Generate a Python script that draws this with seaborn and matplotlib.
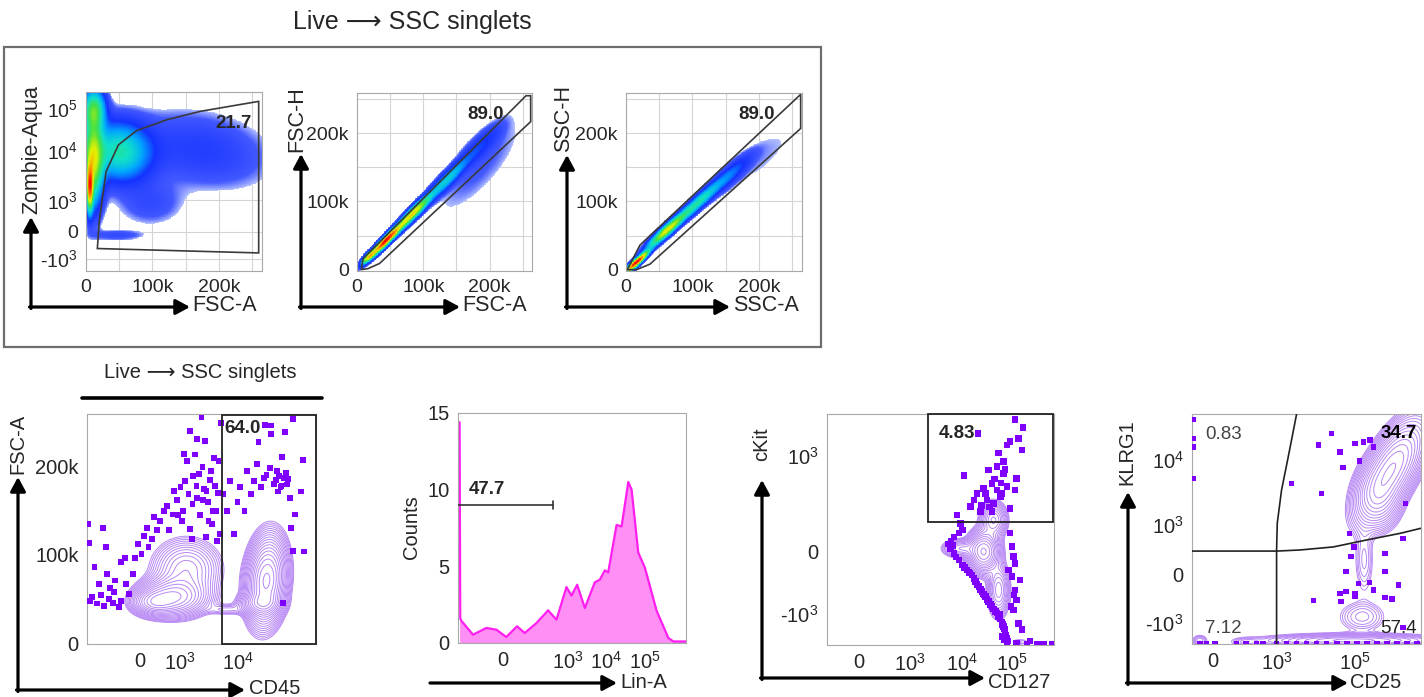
import numpy as np
import matplotlib
matplotlib.use("Agg")
import matplotlib.pyplot as plt
import seaborn as sns
from matplotlib.colors import LinearSegmentedColormap, LogNorm
from matplotlib.patches import FancyArrowPatch, Rectangle, Polygon
from matplotlib.lines import Line2D
from matplotlib.ticker import FixedLocator, FixedFormatter

sns.set_style("white")
plt.rcParams["font.family"] = ["Liberation Sans", "DejaVu Sans"]
plt.rcParams["mathtext.default"] = "regular"

W, H = 1424, 697

# ---------------- data ----------------
# populations: (x, y, spread x, spread y, angle, weight)
live_clusters = [
    (6000, 1800, 0.012, 0.08, 0, 1.0),
    (11000, 6470, 0.035, 0.15, 0, 0.7),
    (12000, 91000, 0.04, 0.07, 0, 0.5),
    (50000, 9500, 0.11, 0.10, -15, 0.4),
    (172000, 10400, 0.25, 0.13, -10, 0.07),
    (96500, 730, 0.12, 0.08, 0, 0.045),
    (46000, -38, 0.10, 0.02, 0, 0.045),
]
live_gate_x = [17100, 20100, 30200, 48800, 76500, 121700, 172000, 260000, 260000]
live_gate_y = [-316, 134, 3750, 13600, 29700, 53000, 83600, 144000, -525]
live_pct = ("21.7", 222000, 44000)

fsc_clusters = [
    (18000, 19000, 0.03, 0.010, 45, 0.5),
    (44000, 43000, 0.07, 0.012, 45, 1.0),
    (84000, 82000, 0.08, 0.015, 45, 0.55),
    (135000, 131000, 0.10, 0.020, 45, 0.14),
    (185000, 180000, 0.10, 0.030, 45, 0.035),
    (185000, 150000, 0.22, 0.07, 48, 0.007),
]
fsc_gate_x = [6500, 9000, 255000, 262000, 262000, 34000, 16600]
fsc_gate_y = [0, 16000, 255000, 255000, 217000, 9000, 1500]
fsc_pct = ("89.0", 194000, 227000)

ssc_clusters = [
    (16000, 11000, 0.05, 0.010, 42, 1.0),
    (62000, 58000, 0.08, 0.015, 42, 0.5),
    (107000, 97000, 0.10, 0.018, 42, 0.2),
    (153000, 136000, 0.10, 0.025, 42, 0.06),
    (205000, 165000, 0.18, 0.06, 42, 0.004),
]
ssc_gate_x = [2000, 21000, 263000, 263000, 36000, 16000]
ssc_gate_y = [0, 36000, 257000, 207000, 8000, 0]
ssc_pct = ("89.0", 196000, 227000)

# CD45 vs FSC-A
cd45_clusters = [
    (604, 52000, 0.08, 0.045, 0, 1.0),
    (117, 46000, 0.05, 0.03, 0, 0.6),
    (1300, 84000, 0.08, 0.07, 0, 0.45),
    (30500, 71000, 0.10, 0.045, 85, 1.6),
    (23500, 45000, 0.05, 0.025, 0, 0.5),
    (6300, 38000, 0.05, 0.015, 0, 0.12),
]
cd45_dots = [
    (-1400, 135), (-1350, 114), (-1250, 48), (-920, 86), (-680, 67), (-530, 131), (-425, 109),
    (-405, 78), (-330, 63), (-271, 46), (-230, 71), (-175, 41), (-155, 92), (-110, 97), (-97, 67),
    (-75, 56), (-48, 78), (-33, 97), (-10, 112), (13, 101), (30, 122), (55, 131), (70, 109),
    (110, 118), (125, 143), (170, 128), (220, 139), (290, 150), (380, 156), (440, 128), (580, 146),
    (640, 173), (830, 162), (1030, 177), (1100, 139), (1240, 184), (1340, 207), (1410, 169),
    (1480, 241), (1650, 158), (1810, 214), (1930, 178), (2150, 192), (2350, 256), (2520, 162),
    (2700, 229), (2870, 173), (3100, 139), (3370, 195), (3730, 150), (4050, 178), (4400, 116),
    (4600, 207), (4850, 124), (5100, 250), (1150, 150), (1500, 130), (1700, 190), (2000, 165),
    (2200, 145), (2450, 200), (2600, 175), (3000, 160), (3300, 185), (3500, 135), (4200, 150),
    (4500, 170), (1600, 118), (900, 145), (2800, 120), (3900, 210), (2000, 232), (1200, 215),
    (-1100, 52), (-800, 45), (-600, 55), (-500, 42), (-350, 50), (-250, 58), (-150, 48),
    (5600, 169), (6500, 150), (7300, 184), (8400, 124), (9700, 160), (10800, 177), (12800, 150),
    (14200, 195), (16300, 169), (18600, 184), (21000, 203), (22200, 228), (24200, 177),
    (27300, 187), (30500, 191), (35000, 199), (37000, 237), (41000, 181), (46000, 195),
    (53000, 177), (56000, 211), (60000, 187), (63000, 240), (69000, 180), (76000, 165),
    (81000, 131), (86000, 254), (87600, 105), (95000, 146), (117000, 172), (128000, 208),
    (134000, 104), (28700, 248), (37000, 247), (58000, 46), (45000, 185), (50000, 190),
    (65000, 193), (72000, 186), (55000, 178), (48000, 172),
]
cd45_gate_low = 5200
cd45_pct = ("64.0", 11900, 243000)

# Lin-A histogram
lin_x = [-900, -860, -800, -363, -136, -46, 15, 69, 117, 222, 392, 581, 925, 1225, 1735, 2770,
         5100, 6920, 9400, 11470, 18770, 25250, 37450, 45600, 67400, 100000, 198000, 392000,
         526000, 1090000]
lin_counts = [14.4, 1.6, 1.45, 0.54, 0.98, 0.87, 0.39, 1.09, 0.65, 1.3, 2.13, 1.52, 3.65, 3.09,
              3.8, 2.28, 3.96, 4.13, 4.74, 4.6, 7.7, 7.6, 10.5, 10.0, 5.9, 4.9, 2.1, 0.33, 0.1,
              0.1]
lin_gate = (-1000, 500)
lin_gate_level = 9.0
lin_pct = ("47.7", -131, 10.0)

# CD127 vs cKit
ckit_clusters = [
    (27400, 0, 0.035, 0.045, 0, 1.0),
    (43000, 116, 0.03, 0.04, 0, 0.4),
    (54000, -308, 0.025, 0.06, 0, 0.35),
    (9550, 10, 0.04, 0.02, 0, 0.3),
    (141800, -1440, 0.03, 0.01, 0, 0.05),
]
ckit_dots = [
    (114600, 2380), (162000, 1960), (20900, 1700), (133000, 1510), (91000, 1400), (155000, 1145),
    (78500, 1290), (54000, 1060), (67600, 828), (50000, 708), (34400, 637), (67600, 573),
    (123000, 488), (11100, 532), (39800, 417), (27400, 354), (78500, 374), (20300, 301),
    (58200, 269), (114600, 336), (17500, 240), (43000, 215), (15000, 191), (91000, 180),
    (8220, 141), (23600, 160), (31800, 240), (50000, 336), (36000, 190), (62000, 300),
    (45000, 480), (60000, 420), (72000, 650), (30000, 300), (25000, 200), (40000, 160),
    (7080, 48), (6270, 32), (5630, 24), (6080, 10), (7080, -8), (8870, -41), (10300, -69),
    (12900, -100), (16200, -137), (18800, -198), (21900, -260), (25400, -334), (29500, -430),
    (34400, -547), (39800, -700), (46400, -887), (54000, -1036), (62700, -1107), (67600, -1180),
    (73000, -1260), (62700, -1345), (78500, -1375), (14500, -120), (20000, -230), (27000, -380),
    (37000, -620), (50000, -950), (58000, -1000), (70000, -1220),
    (11500, -85), (14000, -118), (17500, -168), (20300, -228), (23500, -297), (27500, -382),
    (32000, -488), (37000, -623), (43000, -793), (50000, -960), (58000, -1070), (65000, -1150),
    (76000, -1320), (82000, -1420), (71000, -1400), (6600, 20), (7800, -25),
    (91000, 61), (98400, 16), (106000, -24), (114600, -59), (84700, -100), (98400, -151),
    (143500, -182), (114600, -308), (123000, -505), (106000, -819), (133000, -1130),
    (155000, -1225), (95000, -700), (110000, -400),
    (78500, -1470), (123000, -1470), (194000, -1480), (305000, -1480), (411000, -1480),
    (600000, -1480), (225000, -1420), (9550, 100), (10300, 73), (8870, 61),
]
ckit_gate = (2265, 108)
ckit_pct = ("4.83", 8220, 1700)

# CD25 vs KLRG1
klrg_clusters = [
    (863000, 7440, 0.12, 0.05, 60, 1.0),
    (400000, 2600, 0.05, 0.07, 0, 0.3),
    (170000, 100, 0.025, 0.09, 0, 0.07),
    (150000, -665, 0.06, 0.04, 0, 0.09),
    (90600, -1400, 0.20, 0.015, 0, 0.35),
    (-204, -1400, 0.02, 0.015, 0, 0.08),
    (229, -1440, 0.04, 0.012, 0, 0.06),
]
klrg_dots = [
    (25300, 25700), (11600, 17000), (41400, 13400), (100000, 18000), (163000, 19100),
    (241000, 20300), (294000, 16000), (129000, 9660), (48400, 7700), (2420, 4370),
    (14100, 3070), (1890000, 2150), (71600, 605), (1650000, 446), (94200, 260), (77400, 134),
    (58900, 20), (583000, 170), (583000, 20), (122000, -54), (232000, -49), (1280000, -66),
    (41400, -140), (58900, -122), (100000, -148), (100000, -179), (294000, -107),
    (583000, -188), (863000, -214), (8630, -236), (43000, -247), (1650000, -1085),
    (-446, 42300), (-446, 21400), (-446, 15700), (-446, 5220),
    (-204, -1480), (-80, -1480), (8, -1480), (134, -1480), (229, -1480), (380, -1480),
    (528, -1480), (1000, -1480), (1800, -1480), (3240, -1480), (5830, -1480), (10500, -1480),
    (18900, -1480), (34000, -1480), (61100, -1480), (110000, -1480), (198000, -1480),
    (357000, -1480), (643000, -1480), (1160000, -1480), (2080000, -1480), (3750000, -1480),
]
klrg_vline_x = [1000, 1000, 1040, 1340, 1985, 3240]
klrg_vline_y = [-1500, 198, 1060, 3450, 11200, 51000]
klrg_hline_x = [-500, 1000, 3940, 28000, 198000, 1410000, 4750000]
klrg_hline_y = [198, 198, 213, 260, 403, 605, 821]
klrg_quadrants = [("0.83", 49, 24300, "normal", "#444444"),
                  ("34.7", 1280000, 25700, "bold", "black"),
                  ("7.12", 49, -1105, "normal", "#444444"),
                  ("57.4", 1280000, -1105, "normal", "#222222")]

# ---------------- helpers ----------------
fig = plt.figure(figsize=(W / 100, H / 100), dpi=100)

flow_cmap = LinearSegmentedColormap.from_list(
    "flowjo", [(0.0, "#b4c0ff"), (0.12, "#4258ff"), (0.42, "#1432ff"), (0.58, "#00a4ff"),
               (0.70, "#10e0c8"), (0.80, "#44e044"), (0.88, "#e4f000"), (0.95, "#ff8000"),
               (1.0, "#ff0000")])
contour_color = "#b889f4"
dot_color = "#7f00ff"
gate_font = dict(family=["Liberation Sans Narrow", "Liberation Sans", "DejaVu Sans"],
                 fontsize=13.5, fontweight="bold")
title_text = "Live \u27f6 SSC singlets"


def fig_xy(x, y):
    return (x / W, 1 - y / H)


def add_ax(x0, y0, x1, y1):
    return fig.add_axes([x0 / W, 1 - y1 / H, (x1 - x0) / W, (y1 - y0) / H])


def flow_axis(ax, which, vals, pos, c=100.0):
    # biexponential-like display: anchors taken from the reference tick positions
    t = np.arcsinh(np.asarray(vals, float) / c)
    p = np.asarray(pos, float)
    if which == "y":
        p = -p

    def fwd(v):
        return np.interp(np.arcsinh(np.asarray(v, float) / c), t, p)

    def inv(q):
        return c * np.sinh(np.interp(q, p, t))

    if which == "x":
        ax.set_xscale("function", functions=(fwd, inv))
        ax.set_xlim(vals[0], vals[-1])
    else:
        ax.set_yscale("function", functions=(fwd, inv))
        ax.set_ylim(vals[0], vals[-1])


def log_minors(lo, hi):
    out = []
    for k in range(1, 7):
        for m in range(2, 10):
            for s in (1, -1):
                v = s * m * 10 ** k
                if lo < v < hi:
                    out.append(v)
    return out


def set_ticks(ax, which, major, labels, minor):
    axis = getattr(ax, which + "axis")
    axis.set_major_locator(FixedLocator(major))
    axis.set_major_formatter(FixedFormatter(labels))
    axis.set_minor_locator(FixedLocator(list(minor)))


def style(ax, labelsize=14):
    for s in ax.spines.values():
        s.set_color("#a8a8a8")
        s.set_linewidth(0.8)
    ax.tick_params(which="both", direction="out", color="#444444", width=0.8,
                   labelsize=labelsize, pad=1.5, top=False, right=False)
    ax.tick_params(which="major", length=4.5)
    ax.tick_params(which="minor", length=2.2)


def density(ax, clusters, n=260):
    to_unit = ax.transScale + ax.transLimits
    u = np.linspace(0.0, 1.0, n)
    uu, vv = np.meshgrid(u, u)
    xy = to_unit.inverted().transform(np.column_stack([uu.ravel(), vv.ravel()]))
    gx = xy[:, 0].reshape(uu.shape)
    gy = xy[:, 1].reshape(uu.shape)
    dens = np.zeros_like(uu)
    for cx, cy, sx, sy, ang, w in clusters:
        fx, fy = to_unit.transform([[cx, cy]])[0]
        a = np.deg2rad(ang)
        dx, dy = uu - fx, vv - fy
        r1 = dx * np.cos(a) + dy * np.sin(a)
        r2 = -dx * np.sin(a) + dy * np.cos(a)
        dens += w * np.exp(-0.5 * ((r1 / sx) ** 2 + (r2 / sy) ** 2))
    return gx, gy, dens / dens.max()


def pseudocolor(ax, clusters, floor):
    gx, gy, d = density(ax, clusters)
    ax.pcolormesh(gx, gy, np.ma.masked_less(d, floor), cmap=flow_cmap,
                  norm=LogNorm(floor, 1.0), shading="nearest", zorder=1, rasterized=True)


def contours(ax, clusters, lo, n_levels):
    gx, gy, d = density(ax, clusters)
    ax.contour(gx, gy, d, levels=np.geomspace(lo, 0.95, n_levels), colors=contour_color,
               linewidths=0.7, zorder=2)


def dots(ax, pts, scale, size=16):
    pts = np.asarray(pts, float)
    sns.scatterplot(x=pts[:, 0], y=pts[:, 1] * scale, ax=ax, marker="s", s=size,
                    color=dot_color, edgecolor="none", linewidth=0, zorder=3)


def arrow(x0, y0, x1, y1):
    fig.add_artist(FancyArrowPatch(fig_xy(x0, y0), fig_xy(x1, y1), transform=fig.transFigure,
                                   arrowstyle="-|>,head_length=8.5,head_width=4.6",
                                   mutation_scale=1, lw=2.3, color="black",
                                   shrinkA=0, shrinkB=0))


def corner_arrows(cx, cy, top, right):
    arrow(cx, cy + 1.5, cx, top)
    arrow(cx - 1.5, cy, right, cy)


def gridlines(ax, xs, ys):
    for v in xs:
        ax.axvline(v, color="#d4d4d4", lw=0.8, zorder=0.5)
    for v in ys:
        ax.axhline(v, color="#d4d4d4", lw=0.8, zorder=0.5)


def gate_polygon(ax, gx, gy):
    ax.add_patch(Polygon(np.column_stack([gx, gy]), closed=True, fill=False,
                         ec="#3a3a3a", lw=1.2, zorder=4))


def gate_text(ax, spec, ha="center"):
    txt, x, y = spec
    ax.text(x, y, txt, ha=ha, va="center", zorder=5, **gate_font)


lin_ticks = [0, 100000, 200000]
lin_labels = ["0", "100k", "200k"]
grid50 = [50000, 100000, 150000, 200000, 250000]

# ---------------- top box ----------------
fig.add_artist(Rectangle(fig_xy(4, 347), 817 / W, 300 / H, transform=fig.transFigure,
                         fill=False, ec="#6e6e6e", lw=1.6))
fig.text(*fig_xy(412, 22), title_text, ha="center", va="center", fontsize=18)

# panel 1: FSC-A vs Zombie-Aqua
ax1 = add_ax(86, 92, 262, 271)
ax1.set_xlim(0, 265000)
flow_axis(ax1, "y", [-2000, -1000, 0, 1000, 1e4, 1e5, 2.4e5], [632, 595, 515, 420, 272, 145, 97])
set_ticks(ax1, "x", lin_ticks, lin_labels, np.arange(10000, 265000, 10000))
set_ticks(ax1, "y", [-1000, 0, 1000, 1e4, 1e5], ["-$10^3$", "0", "$10^3$", "$10^4$", "$10^5$"],
          log_minors(-2000, 2.4e5))
style(ax1)
gridlines(ax1, grid50, [-1000, 0, 1000])
pseudocolor(ax1, live_clusters, 0.012)
gate_polygon(ax1, live_gate_x, live_gate_y)
gate_text(ax1, live_pct)

# panel 2: FSC-A vs FSC-H
ax2 = add_ax(357, 93, 532, 271)
ax2.set_xlim(0, 264000)
ax2.set_ylim(-2000, 259000)
set_ticks(ax2, "x", lin_ticks, lin_labels, np.arange(10000, 264000, 10000))
set_ticks(ax2, "y", lin_ticks, lin_labels, np.arange(10000, 259000, 10000))
style(ax2)
gridlines(ax2, grid50, grid50)
pseudocolor(ax2, fsc_clusters, 0.003)
gate_polygon(ax2, fsc_gate_x, fsc_gate_y)
gate_text(ax2, fsc_pct)

# panel 3: SSC-A vs SSC-H
ax3 = add_ax(626, 93, 802, 271)
ax3.set_xlim(0, 265000)
ax3.set_ylim(-2000, 259000)
set_ticks(ax3, "x", lin_ticks, lin_labels, np.arange(10000, 265000, 10000))
set_ticks(ax3, "y", lin_ticks, lin_labels, np.arange(10000, 259000, 10000))
style(ax3)
gridlines(ax3, grid50, grid50)
pseudocolor(ax3, ssc_clusters, 0.003)
gate_polygon(ax3, ssc_gate_x, ssc_gate_y)
gate_text(ax3, ssc_pct)

corner_arrows(31, 307, 217, 190)
corner_arrows(301, 307, 154, 460)
corner_arrows(567, 307, 155, 730)
fig.text(*fig_xy(32, 150), "Zombie-Aqua", rotation=90, ha="center", va="center", fontsize=15.5)
fig.text(*fig_xy(297, 119), "FSC-H", rotation=90, ha="center", va="center", fontsize=15.5)
fig.text(*fig_xy(564, 119), "SSC-H", rotation=90, ha="center", va="center", fontsize=15.5)
for x, lab in [(192, "FSC-A"), (462, "FSC-A"), (733, "SSC-A")]:
    fig.text(*fig_xy(x, 306), lab, ha="left", va="center", fontsize=15.5)

# ---------------- bottom row ----------------
fig.text(*fig_xy(200, 372), title_text, ha="center", va="center", fontsize=14.5)
fig.add_artist(Line2D([82 / W, 322 / W], [1 - 398 / H, 1 - 398 / H], transform=fig.transFigure,
                      color="black", lw=2.6))

# panel A: CD45 vs FSC-A
axA = add_ax(87, 414, 316, 644)
flow_axis(axA, "x", [-1500, 0, 1e3, 1e4, 1e5, 2.15e5], [262, 420, 540, 715, 890, 948])
axA.set_ylim(-1000, 260000)
set_ticks(axA, "x", [0, 1e3, 1e4, 1e5], ["0", "$10^3$", "$10^4$", ""], log_minors(-1500, 2.15e5))
set_ticks(axA, "y", lin_ticks, lin_labels, np.arange(10000, 260000, 10000))
style(axA, 14.5)
contours(axA, cd45_clusters, 0.035, 18)
dots(axA, cd45_dots, 1000, 18)
axA.add_patch(Rectangle((cd45_gate_low, -1000), 2.12e5 - cd45_gate_low, 260000, fill=False,
                        ec="#222222", lw=1.3, zorder=4, clip_on=False))
gate_text(axA, cd45_pct)

# panel B: Lin-A histogram
axB = add_ax(458, 413, 686, 643)
flow_axis(axB, "x", [-1000, 0, 1e3, 1e4, 1e5, 1.1e6], [205, 340, 535, 648, 765, 888])
axB.set_ylim(0, 15)
set_ticks(axB, "x", [0, 1e3, 1e4, 1e5], ["0", "$10^3$", "$10^4$", "$10^5$"], log_minors(-1000, 1.1e6))
set_ticks(axB, "y", [0, 5, 10, 15], ["0", "5", "10", "15"], range(1, 15))
style(axB, 14.5)
axB.fill_between(lin_x, lin_counts, color="#ff8ef5", lw=0, zorder=1)
sns.lineplot(x=lin_x, y=lin_counts, ax=axB, color="#ff1ef0", lw=1.6, estimator=None, sort=False,
             zorder=2)
axB.plot(list(lin_gate), [lin_gate_level] * 2, color="#333333", lw=1.2, zorder=4)
axB.plot([lin_gate[1]] * 2, [lin_gate_level - 0.28, lin_gate_level + 0.28], color="#333333",
         lw=1.2, zorder=4)
gate_text(axB, lin_pct)

# panel C: CD127 vs cKit
axC = add_ax(827, 414, 1054, 645)
flow_axis(axC, "x", [-1000, 0, 1e3, 1e4, 1e5, 6.6e5], [260, 355, 510, 665, 817, 943])
flow_axis(axC, "y", [-1500, -1000, 0, 1000, 2700], [765, 672, 485, 197, 72])
set_ticks(axC, "x", [0, 1e3, 1e4, 1e5], ["0", "$10^3$", "$10^4$", "$10^5$"], log_minors(-1000, 6.6e5))
set_ticks(axC, "y", [-1000, 0, 1000], ["-$10^3$", "0", "$10^3$"], log_minors(-1500, 2700))
style(axC, 14.5)
contours(axC, ckit_clusters, 0.03, 16)
dots(axC, ckit_dots, 1, 22)
axC.add_patch(Rectangle((ckit_gate[0], ckit_gate[1]), 6.3e5 - ckit_gate[0], 2700 - ckit_gate[1],
                        fill=False, ec="#222222", lw=1.3, zorder=4, clip_on=False))
gate_text(axC, ckit_pct)

# panel D: CD25 vs KLRG1
axD = add_ax(1192, 414, 1421, 644)
flow_axis(axD, "x", [-500, 0, 1e3, 1e5, 4.75e6], [277, 340, 530, 765, 962])
flow_axis(axD, "y", [-1500, -1000, 0, 1000, 1e4, 51000], [762, 700, 555, 405, 210, 72])
set_ticks(axD, "x", [0, 1e3, 1e5], ["0", "$10^3$", "$10^5$"], log_minors(-500, 4.75e6))
set_ticks(axD, "y", [-1000, 0, 1000, 1e4], ["-$10^3$", "0", "$10^3$", "$10^4$"],
          log_minors(-1500, 51000))
style(axD, 14.5)
contours(axD, klrg_clusters, 0.025, 17)
dots(axD, klrg_dots, 1, 16)
axD.plot(klrg_vline_x, klrg_vline_y, color="#222222", lw=1.2, zorder=4)
axD.plot(klrg_hline_x, klrg_hline_y, color="#222222", lw=1.2, zorder=4)
for txt, x, y, wt, col in klrg_quadrants:
    axD.text(x, y, txt, ha="center", va="center", color=col, zorder=5,
             family=gate_font["family"], fontsize=13.5, fontweight=wt)

corner_arrows(18, 690, 477, 245)
arrow(430, 683, 617, 683)
corner_arrows(762, 678, 480, 985)
corner_arrows(1128, 683, 492, 1348)
fig.text(*fig_xy(18, 444), "FSC-A", rotation=90, ha="center", va="center", fontsize=14.5)
fig.text(*fig_xy(412, 527), "Counts", rotation=90, ha="center", va="center", fontsize=14.5)
fig.text(*fig_xy(762, 444), "cKit", rotation=90, ha="center", va="center", fontsize=14.5)
fig.text(*fig_xy(1127, 452), "KLRG1", rotation=90, ha="center", va="center", fontsize=14.5)
for x, y, lab in [(249, 688, "CD45"), (620, 683, "Lin-A"), (988, 682, "CD127"), (1350, 683, "CD25")]:
    fig.text(*fig_xy(x, y), lab, ha="left", va="center", fontsize=14.5)

fig.savefig("out.png", dpi=100)
